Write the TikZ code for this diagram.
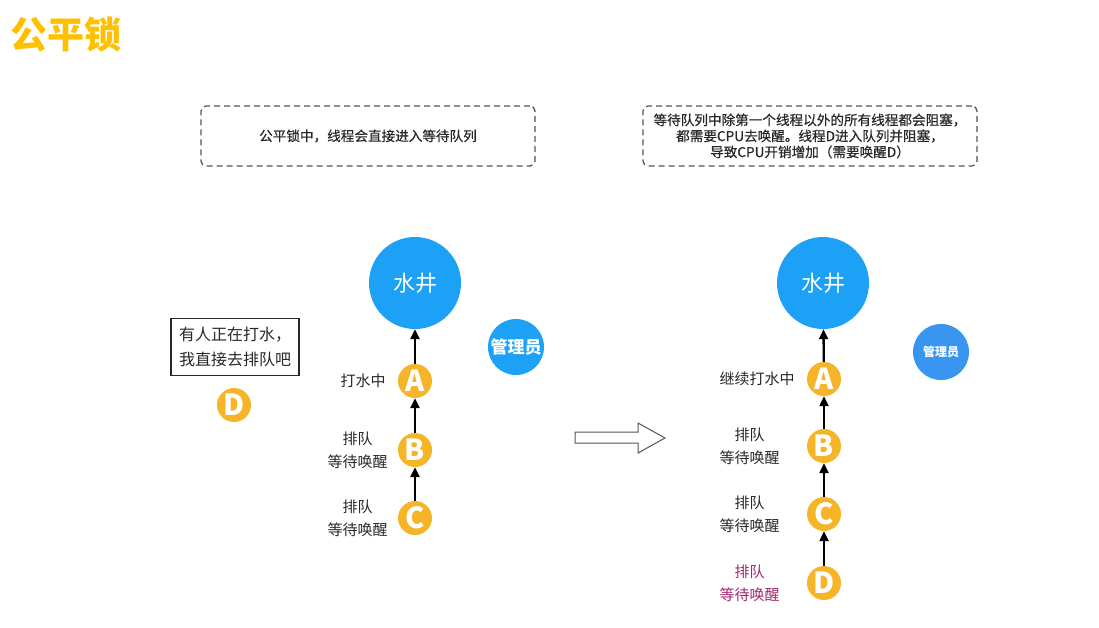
\documentclass[tikz,border=0pt]{standalone}
\usepackage{fontspec}
\setmainfont{Noto Sans CJK SC}
\newfontfamily\medfont{Noto Sans CJK SC}[FakeBold=0.5]
\usetikzlibrary{arrows.meta,positioning}
\definecolor{wellblue}{RGB}{29,161,247}
\definecolor{adminblue}{RGB}{56,150,240}
\definecolor{lockorange}{RGB}{246,180,40}
\definecolor{titleyellow}{RGB}{255,192,0}
\definecolor{textgray}{RGB}{40,40,40}
\definecolor{boxgray}{RGB}{85,85,85}
\definecolor{wakepink}{RGB}{160,40,110}

\begin{document}
\begin{tikzpicture}[x=1pt,y=-1pt,
  well/.style={circle,fill=wellblue,text=white,minimum size=92pt,inner sep=0pt,font=\fontsize{22}{22}\selectfont},
  admin/.style={circle,fill=wellblue,text=white,minimum size=56pt,inner sep=0pt,font=\bfseries\fontsize{17}{17}\selectfont},
  person/.style={circle,fill=lockorange,text=white,minimum size=34pt,inner sep=0pt,font=\bfseries\fontsize{29}{29}\selectfont},
  tag/.style={text=textgray,align=center,inner sep=0pt,font=\fontsize{15}{23}\selectfont},
  flow/.style={-{Triangle[length=10pt,width=9pt]},line width=2.3pt},
  dashbox/.style={draw=boxgray,dashed,dash pattern=on 6pt off 4pt,line width=1.3pt,rounded corners=5pt,
    minimum width=334pt,minimum height=60pt,align=center,text=textgray,font=\medfont\fontsize{13.6}{16}\selectfont}]
  \useasboundingbox (0,0) rectangle (1099,627);

  \node[anchor=west,text=titleyellow,font=\bfseries\fontsize{37}{37}\selectfont] (title) at (7,35) {公平锁};

  % left: before
  \node[dashbox] (noteL) at (368,136) {公平锁中，线程会直接进入等待队列};

  \node[well] (lwell) at (415,283) {水井};
  \node[admin] (ladmin) at (516,347) {管理员};
  \node[person] (lA) at (415,381) {A};
  \node[person] (lB) at (415,450) {B};
  \node[person] (lC) at (415,518) {C};
  \node[person] (lD) at (234,405) {D};

  \node[tag,left=12pt of lA] (tlA) {打水中};
  \node[tag,left=10pt of lB] (tlB) {排队\\等待唤醒};
  \node[tag,left=10pt of lC] (tlC) {排队\\等待唤醒};

  \node[draw=textgray,line width=1.2pt,align=left,text=textgray,inner xsep=8pt,inner ysep=9pt,
    font=\fontsize{16}{25}\selectfont] (say) at (235,347) {有人正在打水，\\我直接去排队吧};

  \draw[flow] (lA) -- (lwell);
  \draw[flow] (lB) -- (lA);
  \draw[flow] (lC) -- (lB);

  % hollow arrow
  \draw[boxgray,line width=1pt,fill=white] (575,432) -- (638,432) -- (638,423) -- (665,438)
    -- (638,453) -- (638,443) -- (575,443) -- cycle;

  % right: after
  \node[dashbox] (noteR) at (810,136) {等待队列中除第一个线程以外的所有线程都会阻塞，\\都需要CPU去唤醒。线程D进入队列并阻塞，\\导致CPU开销增加（需要唤醒D）};

  \node[well] (rwell) at (823,283) {水井};
  \node[admin,fill=adminblue,font=\bfseries\fontsize{12}{12}\selectfont] (radmin) at (941,352) {管理员};
  \node[person] (rA) at (824,379) {A};
  \node[person] (rB) at (824,446) {B};
  \node[person] (rC) at (824,514) {C};
  \node[person] (rD) at (824,583) {D};

  \node[tag,left=12pt of rA] (trA) {继续打水中};
  \node[tag,left=27pt of rB] (trB) {排队\\等待唤醒};
  \node[tag,left=27pt of rC] (trC) {排队\\等待唤醒};
  \node[tag,left=27pt of rD,text=wakepink] (trD) {排队\\等待唤醒};

  \draw[flow] (rA) -- (rwell);
  \draw[flow] (rB) -- (rA);
  \draw[flow] (rC) -- (rB);
  \draw[flow] (rD) -- (rC);
\end{tikzpicture}
\end{document}
